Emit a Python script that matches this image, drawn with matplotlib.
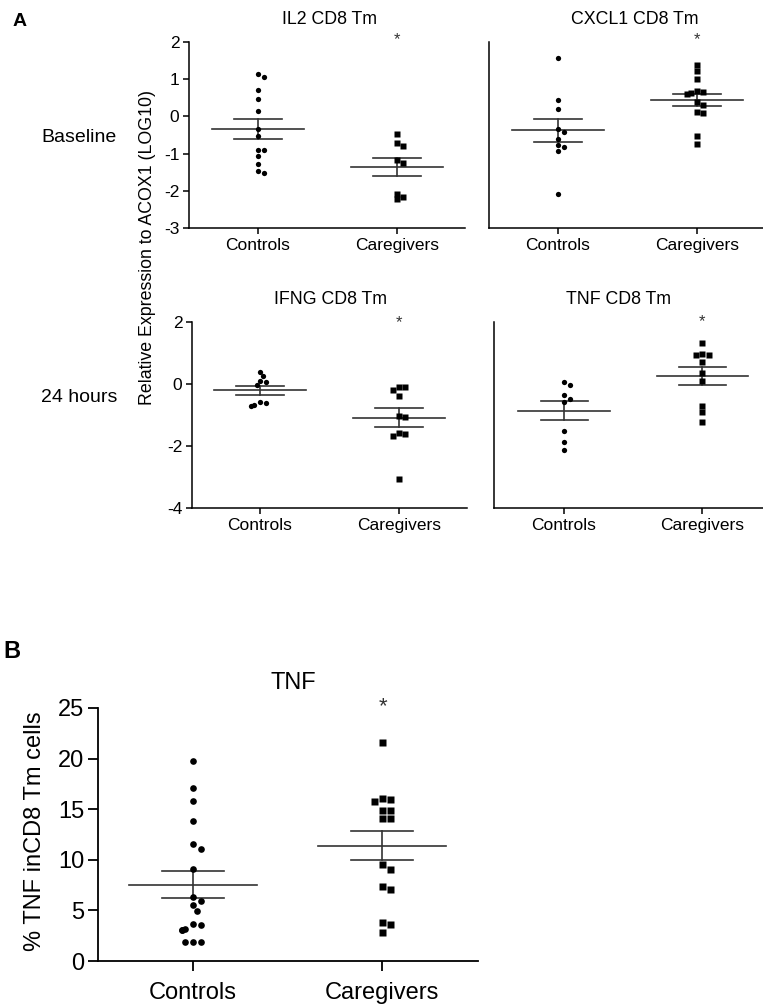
import matplotlib.pyplot as plt
import numpy as np

plt.rcParams['font.family'] = ['Liberation Sans', 'DejaVu Sans']
plt.rcParams['axes.unicode_minus'] = False

W, H = 763, 1005

groups = ["Controls", "Caregivers"]

# panel A, baseline (log10 relative expression)
il2_controls = [1.15, 1.06, 0.72, 0.47, 0.15, -0.34, -0.54, -0.89, -0.90, -1.07, -1.29, -1.47, -1.52]
il2_caregivers = [-0.48, -0.80, -0.71, -1.17, -1.25, -2.08, -2.23, -2.17]
cxcl1_controls = [1.56, 0.43, 0.20, -0.33, -0.42, -0.62, -0.77, -0.81, -0.93, -2.08]
cxcl1_caregivers = [1.39, 1.21, 1.00, 0.65, 0.59, 0.62, 0.67, 0.38, 0.31, 0.08, 0.11, -0.52, -0.75]

# panel A, 24 hours
ifng_controls = [0.39, 0.26, 0.10, 0.07, -0.03, -0.57, -0.71, -0.68, -0.60]
ifng_caregivers = [-0.11, -0.09, -0.19, -0.39, -1.06, -1.04, -1.62, -1.69, -1.58, -3.08]
tnf_controls = [0.08, -0.04, -0.36, -0.48, -0.58, -1.52, -1.87, -2.14]
tnf_caregivers = [1.33, 0.94, 0.97, 0.92, 0.71, 0.36, 0.10, -0.71, -0.91, -1.23]

# panel B, % TNF in CD8 Tm cells
pct_controls = [19.8, 17.1, 15.8, 13.8, 11.6, 11.1, 9.1, 6.3, 5.9, 5.5, 4.9,
                3.6, 3.1, 3.1, 3.2, 3.7, 1.9, 1.9, 1.9]
pct_caregivers = [21.6, 16.1, 15.8, 16.0, 14.9, 14.9, 14.1, 14.1, 9.6, 9.1,
                  7.1, 7.4, 3.85, 3.65, 2.87]

ticks_il2 = [-3, -2, -1, 0, 1, 2]
ticks_ifng = [-4, -2, 0, 2]
ticks_pct = [0, 5, 10, 15, 20, 25]

fig = plt.figure(figsize=(W / 100, H / 100), dpi=100)


def swarm(values, ppx, ppy, size):
    # simple beeswarm: push points sideways until they stop overlapping (in px)
    values = np.asarray(values, dtype=float)
    offsets = np.zeros(len(values))
    placed = []
    step = 0.6 * size
    for i in np.argsort(values)[::-1]:
        y = values[i] * ppy
        for k in [0, 1, -1, 2, -2, 3, -3]:
            x = k * step
            if all(np.hypot(x - px, y - py) >= size for px, py in placed):
                break
        placed.append((x, y))
        offsets[i] = x / ppx
    return offsets


def panel(box, xlim, ylim, ctrl, care, yticks=None, msize=3.8, fs=12.5, mean_hw=0.33,
          sem_hw=0.17, tick_len=4, lw=1.1, xpad=3):
    x0, y0, x1, y1 = box
    ax = fig.add_axes([x0 / W, 1 - y1 / H, (x1 - x0) / W, (y1 - y0) / H])
    ax.set_xlim(*xlim)
    ax.set_ylim(*ylim)
    ppx = (x1 - x0) / (xlim[1] - xlim[0])
    ppy = (y1 - y0) / (ylim[1] - ylim[0])
    for pos, vals, mk in [(0, ctrl, "o"), (1, care, "s")]:
        ms = msize if mk == "o" else msize * 1.05
        off = swarm(vals, ppx, ppy, ms * 1.389 * 0.95)
        ax.plot(pos + off, vals, mk, color="black", ms=ms, mec="none", zorder=3)
        m = np.mean(vals)
        se = np.std(vals, ddof=1) / np.sqrt(len(vals))
        ax.plot([pos - mean_hw, pos + mean_hw], [m, m], color="#333333", lw=1.2, zorder=2)
        for v in (m - se, m + se):
            ax.plot([pos - sem_hw, pos + sem_hw], [v, v], color="#333333", lw=1.2, zorder=2)
        ax.plot([pos, pos], [m - se, m + se], color="#333333", lw=1.2, zorder=2)
    for s in ("top", "right"):
        ax.spines[s].set_visible(False)
    for s in ("left", "bottom"):
        ax.spines[s].set_linewidth(lw)
    ax.set_xticks([0, 1])
    ax.set_xticklabels(groups, fontsize=fs)
    if yticks is None:
        ax.set_yticks([])
    else:
        ax.set_yticks(yticks)
        ax.tick_params(axis="y", labelsize=fs)
    ax.tick_params(length=tick_len, width=lw, pad=3)
    ax.tick_params(axis="x", pad=xpad)
    ax.patch.set_alpha(0)
    return ax


def ptext(x, y, s, **kw):
    fig.text(x / W, 1 - y / H, s, ha="center", va="center", **kw)


# panel A
panel((189, 42, 465, 228), (-0.496, 1.49), (-3, 2), il2_controls, il2_caregivers, ticks_il2)
panel((489, 42, 763, 228), (-0.496, 1.475), (-3, 2), cxcl1_controls, cxcl1_caregivers)
panel((192, 322, 467, 508), (-0.49, 1.49), (-4, 2), ifng_controls, ifng_caregivers, ticks_ifng)
panel((494, 322, 763, 508), (-0.507, 1.44), (-4, 2), tnf_controls, tnf_caregivers)

ptext(330, 20, "IL2 CD8 Tm", fontsize=12.8)
ptext(635, 20, "CXCL1 CD8 Tm", fontsize=12.8)
ptext(330, 300, "IFNG CD8 Tm", fontsize=12.8)
ptext(619, 300, "TNF CD8 Tm", fontsize=12.8)
for x, y in [(397, 40), (697, 40), (399, 323), (702, 322)]:
    ptext(x, y, "*", fontsize=12, color="#333333")

ptext(147, 247, "Relative Expression to ACOX1 (LOG10)", fontsize=12.8, rotation=90)
ptext(79, 138, "Baseline", fontsize=14)
ptext(79, 397, "24 hours", fontsize=14)
ptext(20, 21, "A", fontsize=14, fontweight="bold")

# panel B
panel((98, 708, 478, 961), (-0.503, 1.508), (0, 25), pct_controls, pct_caregivers, ticks_pct,
      msize=4.8, fs=17, mean_hw=0.34, sem_hw=0.165, tick_len=7, lw=1.3, xpad=8)
ptext(293, 683, "TNF", fontsize=17)
ptext(383, 707, "*", fontsize=16, color="#333333")
ptext(35, 831, "% TNF inCD8 Tm cells", fontsize=17, rotation=90)
ptext(12, 652, "B", fontsize=17, fontweight="bold")

fig.savefig("out.png", dpi=100)
